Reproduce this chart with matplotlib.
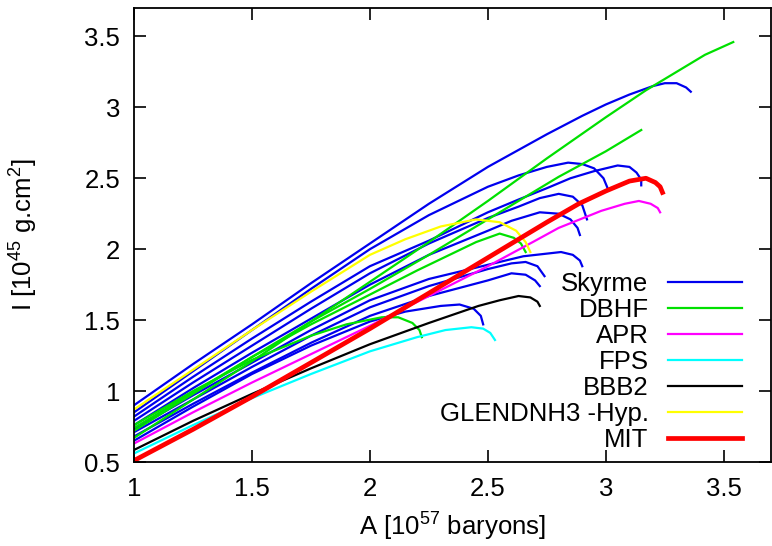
import matplotlib
matplotlib.use("Agg")
import matplotlib.pyplot as plt

plt.rcParams['font.family'] = ['Liberation Sans', 'DejaVu Sans']
plt.rcParams['mathtext.default'] = 'regular'

# --- data: A [1e57 baryons], I [1e45 g cm^2] ---
skyrme_curves = [
    ([1.0, 1.25, 1.5, 1.75, 2.0, 2.25, 2.5, 2.75, 2.9, 3.0, 3.1, 3.2, 3.25, 3.3, 3.34, 3.36],
     [0.90, 1.19, 1.47, 1.76, 2.04, 2.32, 2.58, 2.81, 2.94, 3.02, 3.09, 3.15, 3.17, 3.17, 3.14, 3.11]),
    ([1.0, 1.25, 1.5, 1.75, 2.0, 2.25, 2.5, 2.63, 2.75, 2.84, 2.9, 2.95, 2.99, 3.01],
     [0.85, 1.14, 1.43, 1.72, 2.00, 2.24, 2.44, 2.52, 2.58, 2.61, 2.60, 2.57, 2.50, 2.42]),
    ([1.0, 1.25, 1.5, 1.75, 2.0, 2.25, 2.5, 2.63, 2.75, 2.85, 2.95, 3.05, 3.1, 3.13, 3.15, 3.15],
     [0.82, 1.10, 1.37, 1.63, 1.88, 2.06, 2.26, 2.35, 2.43, 2.50, 2.55, 2.59, 2.58, 2.54, 2.49, 2.45]),
    ([1.0, 1.25, 1.5, 1.75, 2.0, 2.25, 2.5, 2.63, 2.72, 2.80, 2.86, 2.90, 2.92],
     [0.79, 1.06, 1.32, 1.58, 1.83, 2.04, 2.22, 2.30, 2.36, 2.39, 2.37, 2.31, 2.21]),
    ([1.0, 1.25, 1.5, 1.75, 2.0, 2.25, 2.5, 2.6, 2.72, 2.8, 2.85, 2.88, 2.89],
     [0.76, 1.02, 1.27, 1.51, 1.75, 1.96, 2.13, 2.20, 2.26, 2.25, 2.21, 2.15, 2.10]),
    ([1.0, 1.25, 1.5, 1.75, 2.0, 2.25, 2.5, 2.65, 2.81, 2.86, 2.89, 2.90],
     [0.73, 0.97, 1.20, 1.43, 1.64, 1.79, 1.89, 1.95, 1.98, 1.96, 1.92, 1.88]),
    ([1.0, 1.25, 1.5, 1.75, 2.0, 2.25, 2.5, 2.6, 2.66, 2.71, 2.74],
     [0.71, 0.94, 1.17, 1.39, 1.59, 1.74, 1.86, 1.90, 1.91, 1.88, 1.81]),
    ([1.0, 1.25, 1.5, 1.75, 2.0, 2.25, 2.5, 2.6, 2.66, 2.70, 2.72],
     [0.68, 0.91, 1.13, 1.34, 1.53, 1.67, 1.78, 1.83, 1.82, 1.78, 1.74]),
    ([1.0, 1.25, 1.5, 1.75, 2.0, 2.15, 2.3, 2.38, 2.44, 2.47, 2.48],
     [0.65, 0.89, 1.12, 1.32, 1.49, 1.56, 1.60, 1.61, 1.58, 1.53, 1.47]),
]

dbhf_curves = [
    ([1.0, 1.25, 1.5, 1.75, 2.0, 2.25, 2.5, 2.75, 3.0, 3.17, 3.3, 3.42, 3.54],
     [0.67, 0.94, 1.21, 1.49, 1.77, 2.05, 2.34, 2.64, 2.93, 3.12, 3.25, 3.37, 3.46]),
    ([1.0, 1.25, 1.5, 1.75, 2.0, 2.25, 2.5, 2.63, 2.8, 3.0, 3.15],
     [0.72, 0.98, 1.24, 1.49, 1.72, 1.96, 2.21, 2.34, 2.51, 2.69, 2.84]),
    ([1.0, 1.25, 1.5, 1.75, 2.0, 2.2, 2.35, 2.45, 2.55, 2.61, 2.64, 2.66],
     [0.74, 0.99, 1.24, 1.47, 1.68, 1.85, 1.97, 2.05, 2.11, 2.08, 2.04, 1.98]),
    ([1.0, 1.25, 1.5, 1.75, 1.9, 2.05, 2.12, 2.18, 2.21, 2.22],
     [0.76, 1.00, 1.22, 1.39, 1.47, 1.52, 1.52, 1.48, 1.43, 1.38]),
]

apr_A = [1.0, 1.25, 1.5, 1.75, 2.0, 2.25, 2.5, 2.69, 2.8, 2.98, 3.08, 3.14, 3.19, 3.22, 3.23]
apr_I = [0.63, 0.85, 1.06, 1.26, 1.46, 1.67, 1.88, 2.05, 2.15, 2.27, 2.32, 2.34, 2.32, 2.29, 2.26]

fps_A = [1.0, 1.25, 1.5, 1.75, 2.0, 2.2, 2.32, 2.43, 2.48, 2.51, 2.53]
fps_I = [0.56, 0.76, 0.95, 1.12, 1.28, 1.38, 1.43, 1.45, 1.44, 1.41, 1.36]

bbb2_A = [1.0, 1.25, 1.5, 1.75, 2.0, 2.25, 2.46, 2.55, 2.63, 2.68, 2.71, 2.72]
bbb2_I = [0.585, 0.79, 0.98, 1.16, 1.33, 1.48, 1.60, 1.64, 1.67, 1.66, 1.63, 1.60]

glend_A = [1.0, 1.25, 1.5, 1.75, 2.0, 2.15, 2.3, 2.45, 2.55, 2.62, 2.66, 2.68]
glend_I = [0.87, 1.15, 1.43, 1.70, 1.96, 2.07, 2.16, 2.21, 2.19, 2.13, 2.05, 1.98]

mit_A = [1.0, 1.25, 1.5, 1.75, 2.0, 2.25, 2.5, 2.75, 2.885, 3.0, 3.1, 3.17, 3.21, 3.23, 3.24]
mit_I = [0.51, 0.73, 0.96, 1.20, 1.44, 1.69, 1.94, 2.19, 2.32, 2.41, 2.48, 2.50, 2.47, 2.44, 2.40]

fig = plt.figure(figsize=(7.72, 5.46), dpi=100)
ax = fig.add_axes([134 / 772, 84 / 546, 637 / 772, 454 / 546])

lw = 1.6
for i, (xs, ys) in enumerate(skyrme_curves):
    ax.plot(xs, ys, color='#0000ee', lw=lw, label='Skyrme' if i == 0 else None)
for i, (xs, ys) in enumerate(dbhf_curves):
    ax.plot(xs, ys, color='#00e000', lw=lw, label='DBHF' if i == 0 else None)
ax.plot(apr_A, apr_I, color='#ff00ff', lw=lw, label='APR')
ax.plot(fps_A, fps_I, color='#00ffff', lw=lw, label='FPS')
ax.plot(bbb2_A, bbb2_I, color='black', lw=lw, label='BBB2')
ax.plot(glend_A, glend_I, color='#ffff00', lw=lw, label='GLENDNH3 -Hyp.')
ax.plot(mit_A, mit_I, color='#ff0000', lw=3.4, label='MIT')

fs = 18.5
ax.set_xlim(1, 3.7)
ax.set_ylim(0.5, 3.7)
ax.set_xticks([1, 1.5, 2, 2.5, 3, 3.5])
ax.set_xticklabels(['1', '1.5', '2', '2.5', '3', '3.5'])
ax.set_yticks([0.5, 1, 1.5, 2, 2.5, 3, 3.5])
ax.set_yticklabels(['0.5', '1', '1.5', '2', '2.5', '3', '3.5'])
ax.tick_params(direction='in', length=8.5, width=1.2, top=True, right=True,
               labelsize=fs)
ax.tick_params(axis='x', pad=11)
ax.tick_params(axis='y', pad=10)
for s in ax.spines.values():
    s.set_linewidth(1.3)

ax.set_xlabel('A [10$^{57}$ baryons]', fontsize=fs)
ax.set_ylabel('I [10$^{45}$ g.cm$^{2}$]', fontsize=fs)
ax.xaxis.set_label_coords(0.5, -0.108)
ax.yaxis.set_label_coords(-0.148, 0.5)

leg = ax.legend(loc='lower right', bbox_to_anchor=(0.955, 0.022), frameon=False,
                markerfirst=False, fontsize=fs, handlelength=2.9,
                handletextpad=0.75, labelspacing=0.075, borderpad=0, borderaxespad=0)

fig.savefig('out.png', dpi=100)
